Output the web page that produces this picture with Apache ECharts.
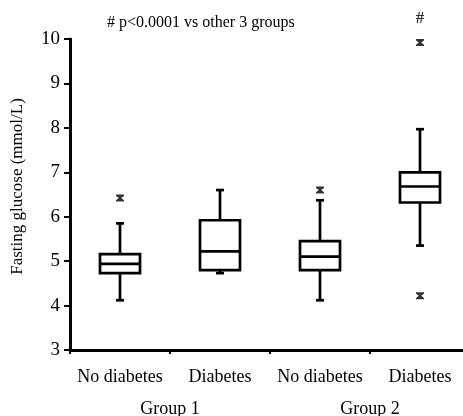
<!DOCTYPE html>
<html>
<head>
<meta charset="utf-8">
<script src="https://cdn.jsdelivr.net/npm/echarts@6/dist/echarts.min.js"></script>
<style>html,body{margin:0;padding:0;background:#fff;}#c{width:463px;height:416px;}</style>
</head>
<body>
<div id="c"></div>
<script>
const categories = ['No diabetes', 'Diabetes', 'No diabetes', 'Diabetes'];
const groups = ['Group 1', 'Group 2'];
const lowerWhisker = [4.12, 4.73, 4.12, 5.35];
const q1 = [4.73, 4.8, 4.8, 6.32];
const median = [4.94, 5.22, 5.1, 6.68];
const q3 = [5.16, 5.92, 5.45, 7.0];
const upperWhisker = [5.85, 6.6, 6.37, 7.97];
const outliers = [[0, 6.42], [2, 6.6], [3, 9.92], [3, 4.22]];
const yTicks = [3, 4, 5, 6, 7, 8, 9, 10];
const annotation = '# p<0.0001 vs other 3 groups';
const sigMark = '#';

const FONT = 'Liberation Serif';
const boxData = categories.map((c, i) => [i, lowerWhisker[i], q1[i], median[i], q3[i], upperWhisker[i]]);

const chart = echarts.init(document.getElementById('c'), null, {renderer: 'canvas'});
chart.setOption({
  animation: false,
  backgroundColor: '#fff',
  title: {
    text: annotation,
    left: 102, top: 10,
    textStyle: {fontFamily: FONT, fontSize: 16, fontWeight: 'normal', color: '#000'}
  },
  grid: {left: 70, width: 400, top: 39, bottom: 66, containLabel: false, outerBoundsMode: 'none'},
  xAxis: [{
    type: 'category', data: categories, position: 'bottom',
    axisLine: {lineStyle: {color: '#000', width: 3}},
    axisTick: {show: true, inside: false, length: 4, lineStyle: {color: '#000', width: 2}},
    axisLabel: {fontFamily: FONT, fontSize: 18, color: '#000', margin: 18, interval: 0}
  }, {
    type: 'category', data: groups, position: 'bottom',
    axisLine: {show: false}, axisTick: {show: false},
    axisLabel: {fontFamily: FONT, fontSize: 18, color: '#000', margin: 50, interval: 0}
  }],
  yAxis: {
    type: 'value', min: 3, max: 10, interval: 1,
    name: 'Fasting glucose (mmol/L)', nameLocation: 'middle', nameGap: 44, nameRotate: 90,
    nameTextStyle: {fontFamily: FONT, fontSize: 17, color: '#000', padding: [0, 0, 0, 16]},
    axisLine: {show: true, lineStyle: {color: '#000', width: 3}},
    axisTick: {show: true, length: 6, lineStyle: {color: '#000', width: 2}},
    axisLabel: {fontFamily: FONT, fontSize: 19, color: '#000', margin: 10},
    splitLine: {show: false}
  },
  series: [{
    type: 'custom',
    xAxisIndex: 0,
    data: boxData,
    encode: {x: 0, y: [1, 2, 3, 4, 5]},
    renderItem: function (params, api) {
      const x = api.value(0);
      const pLow = api.coord([x, api.value(1)]);
      const pQ1 = api.coord([x, api.value(2)]);
      const pMed = api.coord([x, api.value(3)]);
      const pQ3 = api.coord([x, api.value(4)]);
      const pHigh = api.coord([x, api.value(5)]);
      const cx = pMed[0];
      const hw = 20, cw = 4;
      const st = {stroke: '#000', lineWidth: 2.7, fill: null};
      return {
        type: 'group',
        children: [
          {type: 'line', shape: {x1: cx, y1: pQ3[1], x2: cx, y2: pHigh[1]}, style: st},
          {type: 'line', shape: {x1: cx, y1: pQ1[1], x2: cx, y2: pLow[1]}, style: st},
          {type: 'line', shape: {x1: cx - cw, y1: pHigh[1], x2: cx + cw, y2: pHigh[1]}, style: st},
          {type: 'line', shape: {x1: cx - cw, y1: pLow[1], x2: cx + cw, y2: pLow[1]}, style: st},
          {type: 'rect', shape: {x: cx - hw, y: pQ3[1], width: 2 * hw, height: pQ1[1] - pQ3[1]}, style: {stroke: '#000', lineWidth: 2.7, fill: '#fff'}},
          {type: 'line', shape: {x1: cx - hw, y1: pMed[1], x2: cx + hw, y2: pMed[1]}, style: st}
        ]
      };
    }
  }, {
    type: 'scatter',
    xAxisIndex: 0,
    data: outliers.map((o) => {
      const d = {value: o};
      if (o[1] > 9) {
        d.label = {show: true, formatter: sigMark, position: 'top', distance: 12,
          fontFamily: FONT, fontSize: 17, fontWeight: 'bold', color: '#000'};
      }
      return d;
    }),
    symbol: 'path://M0,0L10,0L10,2L6.5,5L10,8L10,10L0,10L0,8L3.5,5L0,2Z',
    symbolSize: [8, 7],
    itemStyle: {color: '#000'},
    z: 5
  }]
});
</script>
</body>
</html>
